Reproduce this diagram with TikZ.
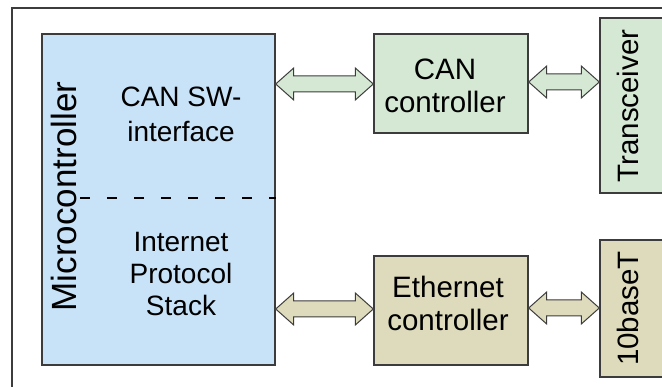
\documentclass[tikz,border=0pt]{standalone}
\usepackage{fontspec}
\setmainfont{Liberation Sans}
\usetikzlibrary{calc}
\definecolor{mcblue}{RGB}{200,226,247}
\definecolor{cangreen}{RGB}{213,232,212}
\definecolor{ethtan}{RGB}{221,219,187}
\definecolor{edgegray}{RGB}{60,60,60}
\newcommand\dblarrow[3]{%
  \draw[barrow, fill=#3] let \p1=#1, \p2=#2 in
    (\x1,\y1) -- ({\x1+18pt},{\y1+16pt}) -- ({\x1+18pt},{\y1+8pt})
    -- ({\x2-18pt},{\y1+8pt}) -- ({\x2-18pt},{\y1+16pt}) -- (\x2,\y1)
    -- ({\x2-18pt},{\y1-16pt}) -- ({\x2-18pt},{\y1-8pt})
    -- ({\x1+18pt},{\y1-8pt}) -- ({\x1+18pt},{\y1-16pt}) -- cycle;}
\begin{document}
\begin{tikzpicture}[x=1pt,y=-1pt,
  box/.style={draw=edgegray, line width=1.4pt, rectangle, inner sep=0pt},
  lbl/.style={font=\fontsize{29.5}{33}\selectfont, align=center, inner sep=0pt},
  barrow/.style={draw=edgegray, line width=1pt, line join=miter},
  frameline/.style={draw=edgegray, line width=1.5pt},
  divline/.style={draw=black, line width=1.2pt, dash pattern=on 10pt off 17pt}]
\useasboundingbox (0,0) rectangle (662,387);
\clip (0,0) rectangle (662,387);
\draw[frameline] (12,395) -- (12,8) -- (670,8);
% boxes
\node[box, fill=mcblue, minimum width=233pt, minimum height=331pt] (mc) at (158.5,199.5) {};
\node[box, fill=cangreen, minimum width=154pt, minimum height=99pt] (can) at (451,83.5) {};
\node[box, fill=ethtan, minimum width=154pt, minimum height=109pt] (eth) at (451,310.5) {};
\node[box, fill=cangreen, minimum width=72pt, minimum height=175pt] (trx) at (636,105.5) {};
\node[box, fill=ethtan, minimum width=72pt, minimum height=137pt] (tenb) at (636,308.5) {};
% dashed divider
\coordinate (dl) at (80,198);
\draw[divline] (dl) -- (dl -| mc.east);
% row levels
\coordinate (r1) at (0,84);
\coordinate (r1b) at (0,82);
\coordinate (r2) at (0,309);
\coordinate (r2b) at (0,308);
% arrows
\dblarrow{(mc.east |- r1)}{(can.west |- r1)}{cangreen}
\dblarrow{(can.east |- r1b)}{(trx.west |- r1b)}{cangreen}
\dblarrow{(mc.east |- r2)}{(eth.west |- r2)}{ethtan}
\dblarrow{(eth.east |- r2b)}{(tenb.west |- r2b)}{ethtan}
% labels
\node[lbl, font=\fontsize{28}{35}\selectfont] (canswl) at (181,114) {CAN SW-\\interface};
\node[lbl, font=\fontsize{28}{32}\selectfont] (ipsl) at (181,274.5) {Internet\\Protocol\\Stack};
\node[lbl] (canl) at (445,86) {CAN\\controller};
\node[lbl] (ethl) at (448,303.5) {Ethernet\\controller};
\node[lbl, rotate=90] (trxl) at (628,106) {Transceiver};
\node[lbl, rotate=90] (tbl) at (628,308.5) {10baseT};
\node[lbl, rotate=90, font=\fontsize{35}{40}\selectfont] (mcl) at (64,196.5) {Microcontroller};
\end{tikzpicture}
\end{document}
